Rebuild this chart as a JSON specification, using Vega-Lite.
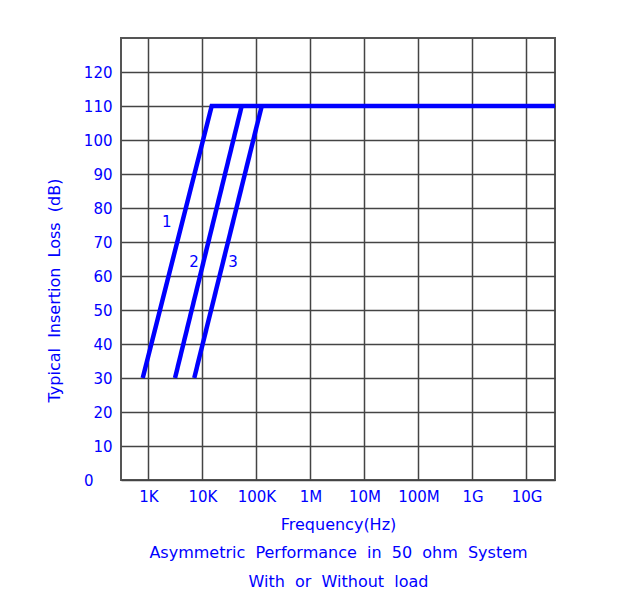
{
  "$schema": "https://vega.github.io/schema/vega-lite/v6.json",
  "width": 434,
  "height": 442,
  "autosize": {"type": "none"},
  "padding": {"left": 121, "top": 38, "right": 80, "bottom": 132},
  "background": "white",
  "config": {
    "view": {"stroke": "#555555", "strokeWidth": 2},
    "font": "DejaVu Sans"
  },
  "datasets": {
    "curves": [
      {"series": "1", "freq": 788, "loss": 30},
      {"series": "1", "freq": 14900, "loss": 110},
      {"series": "1", "freq": 33700000000, "loss": 110},
      {"series": "2", "freq": 3120, "loss": 30},
      {"series": "2", "freq": 53500, "loss": 110},
      {"series": "3", "freq": 7080, "loss": 30},
      {"series": "3", "freq": 125800, "loss": 110}
    ],
    "labels": [
      {"label": "1", "freq": 2200, "loss": 76},
      {"label": "2", "freq": 7000, "loss": 64},
      {"label": "3", "freq": 36900, "loss": 64}
    ]
  },
  "encoding": {
    "x": {
      "field": "freq", "type": "quantitative",
      "scale": {"type": "log", "domain": [312, 33700000000], "nice": false},
      "axis": {
        "values": [1000, 10000, 100000, 1000000, 10000000, 100000000, 1000000000, 10000000000],
        "labelExpr": "['1K','10K','100K','1M','10M','100M','1G','10G'][round(log(datum.value)/LN10)-3]",
        "ticks": false, "domain": false,
        "grid": true, "gridColor": "#444444", "gridWidth": 1.5,
        "labelColor": "#0000ff", "labelFontSize": 15, "labelPadding": 9, "labelFlush": false, "labelOverlap": false,
        "title": ["Frequency(Hz)", "Asymmetric\u00a0\u00a0Performance\u00a0\u00a0in\u00a0\u00a050\u00a0\u00a0ohm\u00a0\u00a0System", "With\u00a0\u00a0or\u00a0\u00a0Without\u00a0\u00a0load"],
        "titleColor": "#0000ff", "titleFontSize": 16, "titleFontWeight": "normal",
        "titleLineHeight": 28.5, "titlePadding": 12
      }
    },
    "y": {
      "field": "loss", "type": "quantitative",
      "scale": {"domain": [0, 130], "nice": false},
      "axis": {
        "values": [0, 10, 20, 30, 40, 50, 60, 70, 80, 90, 100, 110, 120],
        "ticks": false, "domain": false,
        "grid": true, "gridColor": "#444444", "gridWidth": 1.5,
        "labelColor": "#0000ff", "labelFontSize": 15,
        "labelPadding": {"condition": {"test": "datum.value == 0", "value": 28}, "value": 9},
        "labelFlush": false, "labelOverlap": false,
        "title": "Typical\u00a0\u00a0Insertion\u00a0\u00a0Loss\u00a0\u00a0(dB)",
        "titleColor": "#0000ff", "titleFontSize": 16, "titleFontWeight": "normal",
        "titleX": -67, "titleY": 252, "titleAngle": -90, "titleAlign": "center", "titleBaseline": "middle"
      }
    }
  },
  "layer": [
    {
      "data": {"name": "curves"},
      "mark": {"type": "line", "color": "#0000ff", "strokeWidth": 4.5, "strokeCap": "butt", "clip": true},
      "encoding": {
        "detail": {"field": "series"}
      }
    },
    {
      "data": {"name": "labels"},
      "mark": {"type": "text", "color": "#0000ff", "fontSize": 15, "font": "DejaVu Sans"},
      "encoding": {
        "text": {"field": "label"}
      }
    }
  ]
}
